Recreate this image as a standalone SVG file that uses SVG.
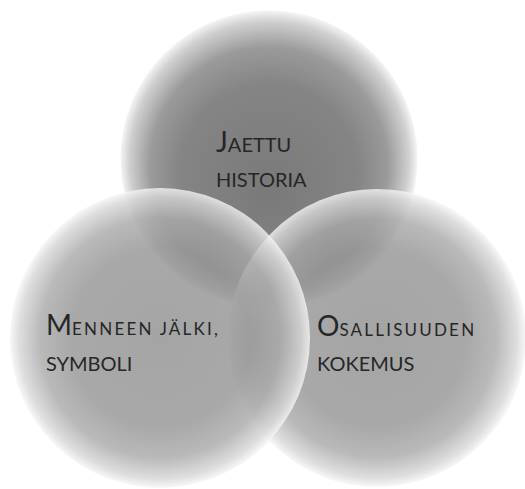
<svg xmlns="http://www.w3.org/2000/svg" width="525" height="489" viewBox="0 0 525 489">
  <style>
    .lbl { font-family: Lato, "Liberation Sans", sans-serif; fill: #262626; }
    .big { font-size: 28px; }
    .sm { font-size: 17px; letter-spacing: 2.2px; }
    .sm2 { font-size: 20px; }
    .circ { opacity: 0.8; }
  </style>
  <defs>
    <radialGradient id="gt" cx="50%" cy="50%" r="50%" fx="50%" fy="62%">
      <stop offset="0" stop-color="#727272"/>
      <stop offset="0.6" stop-color="#7e7e7e"/>
      <stop offset="0.8" stop-color="#959595"/>
      <stop offset="0.94" stop-color="#cdcdcd"/>
      <stop offset="1" stop-color="#f4f4f4"/>
    </radialGradient>
    <radialGradient id="g" cx="50%" cy="50%" r="50%">
      <stop offset="0" stop-color="#8e8e8e"/>
      <stop offset="0.6" stop-color="#939393"/>
      <stop offset="0.8" stop-color="#a8a8a8"/>
      <stop offset="0.94" stop-color="#d6d6d6"/>
      <stop offset="1" stop-color="#f6f6f6"/>
    </radialGradient>
  </defs>
  <rect width="525" height="489" fill="#ffffff"/>
  <g id="node-top">
    <circle cx="269" cy="159" r="148.5" fill="url(#gt)" opacity="0.95"/>
    <text class="lbl" x="216" y="152"><tspan class="big">J</tspan><tspan class="sm2">AETTU</tspan></text>
    <text class="lbl sm2" x="216" y="187">HISTORIA</text>
  </g>
  <g id="node-right">
    <circle class="circ" cx="377" cy="338" r="149" fill="url(#g)"/>
    <text class="lbl" x="317" y="335.5"><tspan class="big">O</tspan><tspan class="sm">SALLISUUDEN</tspan></text>
    <text class="lbl sm2" x="317" y="371">KOKEMUS</text>
  </g>
  <g id="node-left">
    <circle class="circ" cx="160" cy="338" r="150" fill="url(#g)"/>
    <text class="lbl" x="46" y="335"><tspan class="big">M</tspan><tspan class="sm">ENNEEN JÄLKI,</tspan></text>
    <text class="lbl sm2" x="46" y="370.5">SYMBOLI</text>
  </g>
  <g id="connectors"/>
</svg>
